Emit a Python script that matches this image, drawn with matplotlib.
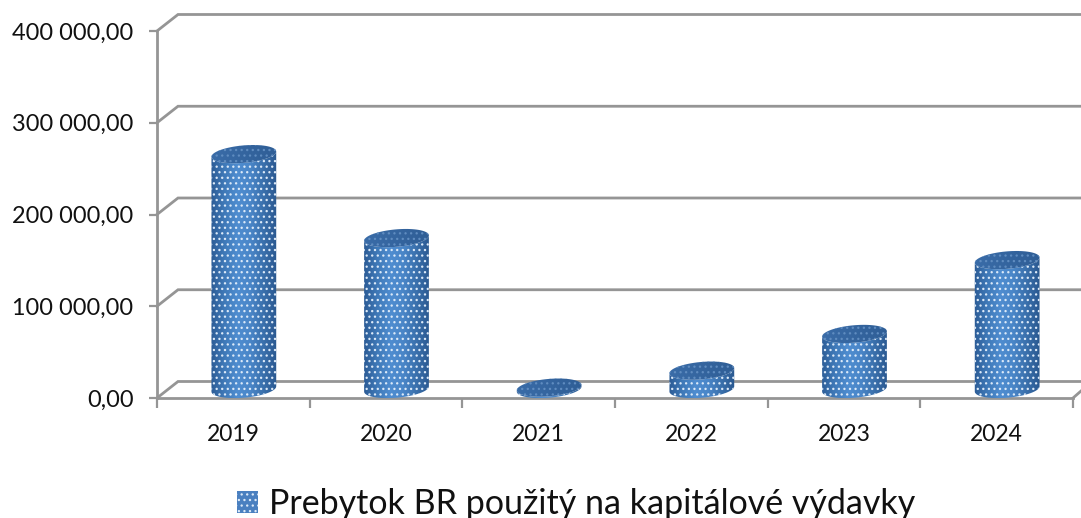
import numpy as np
import matplotlib
matplotlib.use("Agg")
import matplotlib.pyplot as plt
from matplotlib.colors import LinearSegmentedColormap
from matplotlib.patches import Patch, Polygon

categories = ["2019", "2020", "2021", "2022", "2023", "2024"]
surplus = [256000, 164500, 1500, 20000, 60000, 140500]
y_ticks = [0, 100000, 200000, 300000, 400000]
y_labels = ["0,00", "100 000,00", "200 000,00", "300 000,00", "400 000,00"]
legend_label = "Prebytok BR použitý na kapitálové výdavky"

W, H = 1081, 518
L, R, B, T = 157, 1073, 398, 31
plt.rcParams["font.family"] = ["Lato", "DejaVu Sans"]
plt.rcParams["hatch.linewidth"] = 0.9
fig = plt.figure(figsize=(W / 100, H / 100), dpi=100)
ax = fig.add_axes([L / W, 1 - B / H, (R - L) / W, (B - T) / H])
YMAX = 400000
GRID = "#959595"
x_per_px = len(categories) / (R - L)
y_per_px = YMAX / (B - T)


def ellipse(cx, val, t):
    """points of a slightly tilted ellipse; cx in category units, val in data units"""
    a, b, tilt = 32.5, 8.7, np.deg2rad(5)
    ex, ey = a * np.cos(t), b * np.sin(t)
    px = ex * np.cos(tilt) - ey * np.sin(tilt)
    py = ex * np.sin(tilt) + ey * np.cos(tilt)
    return cx + px * x_per_px, val + py * y_per_px


# depth of the 3-D floor
dx, dy = 21 * x_per_px, 16.5 * y_per_px
n = len(categories)
for v in y_ticks:
    ax.plot([0, dx, n + 1], [v, v + dy, v + dy], color=GRID, lw=2.0, zorder=1, clip_on=False,
            solid_joinstyle="miter")
ax.plot([n, n + 8 * x_per_px], [0, 7 * y_per_px], color=GRID, lw=2.0, zorder=1, clip_on=False)

for s in ("top", "right"):
    ax.spines[s].set_visible(False)
for s in ("left", "bottom"):
    ax.spines[s].set_color(GRID)
    ax.spines[s].set_linewidth(2.0)
    ax.spines[s].set_zorder(2)

side_cmap = LinearSegmentedColormap.from_list("side", ["#2c5c96", "#3f79b8", "#4f8dd0", "#4a86c8", "#3a70ac", "#2a5890"])
top_cmap = LinearSegmentedColormap.from_list("top", ["#3a6ca8", "#2f5e96"])
grad = np.linspace(0, 1, 128).reshape(1, -1)

offset = 10.5 * x_per_px
base_lift = 9 * y_per_px
for i, val in enumerate(surplus):
    cx = i + 0.5 + offset
    lo = np.linspace(np.pi, 2 * np.pi, 40)
    bx, by = ellipse(cx, base_lift, lo)
    tx, ty = ellipse(cx, base_lift + val, lo[::-1])
    body = np.column_stack([np.r_[bx, tx], np.r_[by, ty]])
    side = Polygon(body, closed=True, fc="none", ec="none", zorder=4, clip_on=False)
    ax.add_patch(side)
    im = ax.imshow(grad, cmap=side_cmap, aspect="auto", zorder=4,
                   extent=[cx - 33 * x_per_px, cx + 33 * x_per_px, 0, base_lift + val + 10 * y_per_px])
    im.set_clip_path(side)
    ax.add_patch(Polygon(body, closed=True, fc="none", ec="#dbe9f8", lw=0, hatch="...", zorder=5, clip_on=False))

    full = np.linspace(0, 2 * np.pi, 80)
    ex, ey = ellipse(cx, base_lift + val, full)
    top_pts = np.column_stack([ex, ey])
    top = Polygon(top_pts, closed=True, fc="none", ec="none", zorder=6, clip_on=False)
    ax.add_patch(top)
    im2 = ax.imshow(grad, cmap=top_cmap, aspect="auto", zorder=6,
                    extent=[cx - 33 * x_per_px, cx + 33 * x_per_px, 0, base_lift + val + 10 * y_per_px])
    im2.set_clip_path(top)
    ax.add_patch(Polygon(top_pts, closed=True, fc="none", ec="#5f8cc0", lw=0, hatch="...", zorder=7, clip_on=False))

ax.set_xlim(0, n)
ax.set_ylim(0, YMAX)
ax.set_xticks(np.arange(n + 1))
ax.set_xticklabels([])
ax.set_xticks(np.arange(n) + 0.5, categories, minor=True)
ax.tick_params(axis="x", which="major", length=7, width=1.6, color=GRID)
ax.tick_params(axis="x", which="minor", length=0, pad=18.5, labelsize=16.5, labelcolor="#111111")
ax.set_yticks(y_ticks, y_labels)
ax.tick_params(axis="y", length=6, width=1.6, color=GRID, pad=11, labelsize=16.9, labelcolor="#111111")

handle = Patch(facecolor="#4a80c0", edgecolor="#dbe9f8", lw=0, hatch="...")
leg = fig.legend([handle], [legend_label], loc="center", bbox_to_anchor=(576 / W, 1 - 504 / H), frameon=False,
                 fontsize=24.5, handlelength=0.62, handleheight=0.62, handletextpad=0.32, labelcolor="#111111",
                 borderpad=0, borderaxespad=0)
fig.savefig("out.png", dpi=100, facecolor="white")
